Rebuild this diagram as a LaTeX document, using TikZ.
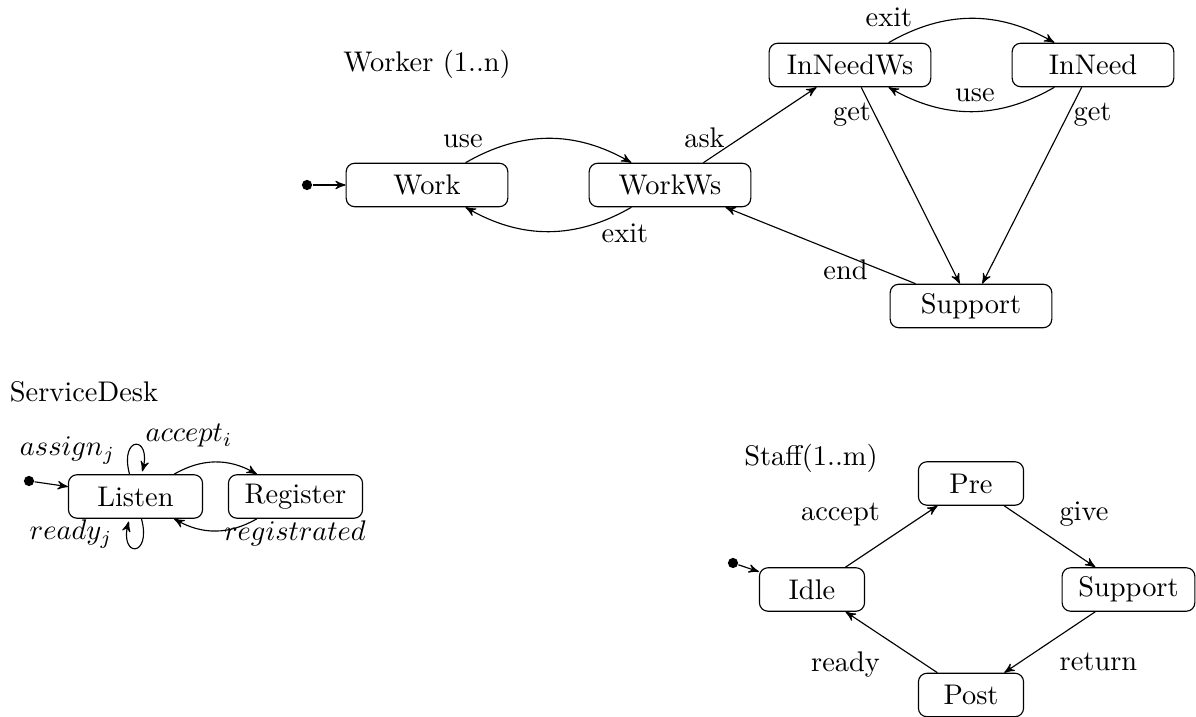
\documentclass[tikz,border=0pt]{standalone}
\usetikzlibrary{arrows}
\begin{document}
\begin{tikzpicture}[x=0.352pt,y=-0.352pt,>=stealth',
  stbox/.style={draw,rounded corners=3pt,minimum height=15.3pt,inner xsep=5.7pt,inner ysep=3pt},
  wbox/.style={stbox,minimum width=2cm},
  dbox/.style={stbox,minimum width=47.2pt},
  sbox/.style={stbox,minimum width=37pt},
  initdot/.style={circle,fill,inner sep=0pt,minimum size=3.6pt},
  lbl/.style={anchor=base,inner sep=0pt}]
\useasboundingbox (0,0) rectangle (1196,717);

% ---------------- Worker ----------------
\node[lbl] (wtitle) at (427,72) {Worker (1..n)};
\node[wbox] (work)     at (427,185)  {Work};
\node[wbox] (workws)   at (670,185)  {WorkWs};
\node[wbox] (inneedws) at (850,65)   {InNeedWs};
\node[wbox] (inneed)   at (1093,65)  {InNeed};
\node[wbox] (wsupport) at (971,306)  {Support};
\node[initdot] (winit) at (307,185) {};

\draw[->] (winit) -- (work);
\draw[->] (work) to[bend left] (workws);
\draw[->] (workws) to[bend left] (work);
\draw[->] (workws) -- (inneedws);
\draw[->] (inneedws) to[bend left] (inneed);
\draw[->] (inneed) to[bend left] (inneedws);
\draw[->] (inneedws) -- (wsupport);
\draw[->] (inneed) -- (wsupport);
\draw[->] (wsupport) -- (workws);

\node[lbl] (luse1)  at (463,148)   {use};
\node[lbl] (lexit1) at (625,243)   {exit};
\node[lbl] (lask)   at (704.5,148) {ask};
\node[lbl] (lexit2) at (889,27)    {exit};
\node[lbl] (luse2)  at (975,102)   {use};
\node[lbl] (lget1)  at (852,121)   {get};
\node[lbl] (lget2)  at (1092.5,121) {get};
\node[lbl] (lend)   at (845.5,280) {end};

% ---------------- ServiceDesk ----------------
\node[lbl] (dtitle) at (84,402) {ServiceDesk};
\node[dbox] (listen)   at (135.5,496.5) {Listen};
\node[dbox] (register) at (295.5,496.5) {Register};
\node[initdot] (dinit) at (29,481) {};

\draw[->] (dinit) -- (listen);
\draw[->] (listen) to[bend left] (register);
\draw[->] (register) to[bend left] (listen);
\draw (listen) edge[loop above] (listen);
\draw (listen) edge[loop below] (listen);

\node[lbl] (lassign)   at (67.5,456) {$assign_j$};
\node[lbl] (laccepti)  at (189,442)  {$accept_i$};
\node[lbl] (lreadyj)   at (71,540)   {$ready_j$};
\node[lbl] (lregistr)  at (295,541)  {$registrated$};

% ---------------- Staff ----------------
\node[lbl] (stitle) at (811,466) {Staff(1..m)};
\node[sbox] (pre)      at (971,483.5)    {Pre};
\node[sbox] (idle)     at (812,589.5)    {Idle};
\node[sbox] (ssupport) at (1128.5,589.5) {Support};
\node[sbox] (post)     at (971,695)      {Post};
\node[initdot] (sinit) at (733,563) {};

\draw[->] (sinit) -- (idle);
\draw[->] (idle) -- (pre);
\draw[->] (pre) -- (ssupport);
\draw[->] (ssupport) -- (post);
\draw[->] (post) -- (idle);

\node[lbl] (laccept) at (840.5,521)  {accept};
\node[lbl] (lgive)   at (1084,521)   {give};
\node[lbl] (lready)  at (845.5,672)  {ready};
\node[lbl] (lreturn) at (1098.5,671) {return};
\end{tikzpicture}
\end{document}
